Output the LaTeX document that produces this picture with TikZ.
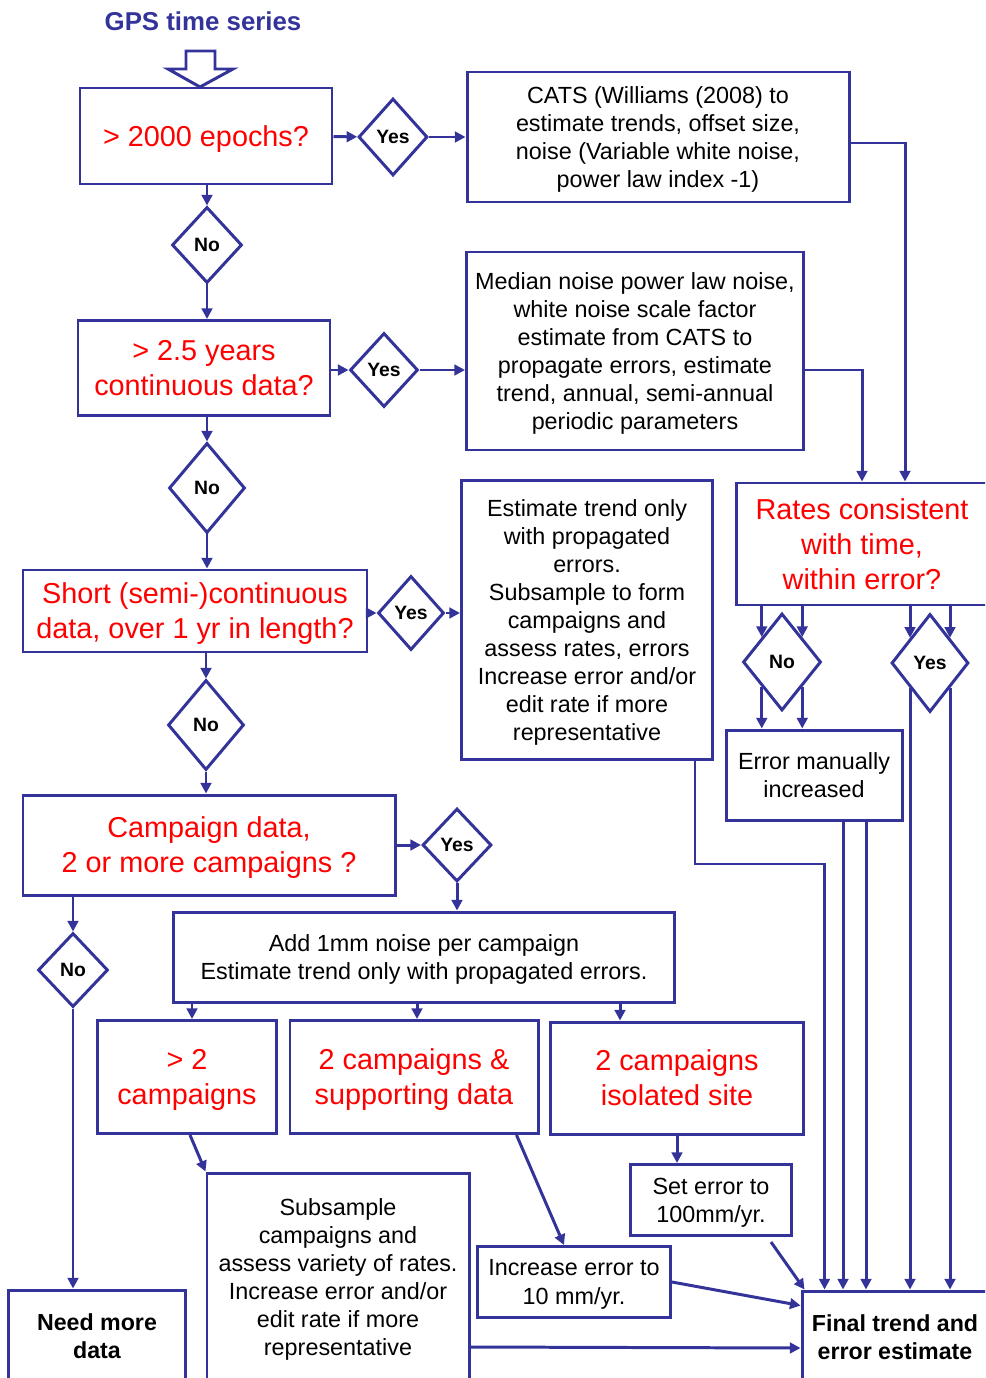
\documentclass[tikz,border=0pt]{standalone}
\usepackage{fontspec}
\setmainfont{Liberation Sans}
\usetikzlibrary{arrows.meta,calc,positioning,shapes.geometric}
\definecolor{gpsblue}{RGB}{51,51,153}
\tikzset{
    flow/.style={draw=gpsblue,line width=1.7pt},
    sz/.style 2 args={minimum width=#1*0.02cm,minimum height=#2*0.02cm},
    qbox/.style={flow,rectangle,text=red,align=center,inner sep=0pt,text depth=-1pt,font=\fontsize{16.4}{19.9}\selectfont},
    tbox/.style={flow,rectangle,align=center,inner sep=0pt,text depth=-1pt,font=\fontsize{13.3}{16}\selectfont},
    bbox/.style={tbox,font=\bfseries\fontsize{13.2}{16}\selectfont},
    yn/.style={flow,diamond,inner sep=0pt,font=\bfseries\fontsize{11}{13}\selectfont},
    arr/.style={draw=gpsblue,line width=1.7pt,->}
}

\begin{document}
\begin{tikzpicture}[x=0.02cm,y=-0.02cm,>={Triangle[length=6pt,width=6pt]}]
    \useasboundingbox (0,0) rectangle (985,1378);
    \clip (0,0) rectangle (985,1378);

    \node[font=\bfseries\fontsize{14.7}{17}\selectfont,text=gpsblue] (title) at (203,21) {GPS time series};
    \draw[flow] (186,51) -- (215,51) -- (215,69) -- (233,69) -- (200,87) -- (168,69) -- (186,69) -- cycle;

    % time series questions
    \node[qbox,sz={252}{96}] (epochs) at (206,136) {> 2000 epochs?};
    \node[yn,sz={69}{77}] (yes1) at (393,137) {Yes};
    \node[tbox,sz={382}{130}] (cats) at (658,137) {CATS (Williams (2008) to\\estimate trends, offset size,\\noise (Variable white noise,\\power law index -1)};
    \node[yn,sz={70}{76}] (no1) at (207,245) {No};

    \node[qbox,sz={252}{95}] (years) at (204,368) {> 2.5 years\\continuous data?};
    \node[yn,sz={68}{74}] (yes2) at (384,370) {Yes};
    \node[tbox,sz={337}{198}] (median) at (635,351) {Median noise power law noise,\\white noise scale factor\\estimate from CATS to\\propagate errors, estimate\\trend, annual, semi-annual\\periodic parameters};
    \node[yn,sz={76}{90}] (no2) at (207,488) {No};

    \node[qbox,sz={344}{82}] (short) at (195,611) {Short (semi-)continuous\\data, over 1 yr in length?};
    \node[yn,sz={66}{74}] (yes3) at (411,613) {Yes};
    \node[tbox,sz={251}{279}] (subest) at (587,620) {Estimate trend only\\with propagated\\errors.\\Subsample to form\\campaigns and\\assess rates, errors\\Increase error and/or\\edit rate if more\\representative};
    \node[yn,sz={76}{90}] (no3) at (206,725) {No};

    % campaign data
    \node[qbox,sz={372}{100}] (campaign) at (209,845) {Campaign data,\\2 or more campaigns ?};
    \node[yn,sz={69}{73}] (yes4) at (457,845) {Yes};
    \node[yn,sz={70}{74}] (no4) at (73,970) {No};
    \node[tbox,sz={501}{90}] (addnoise) at (424,957) {Add 1mm noise per campaign\\Estimate trend only with propagated errors.};
    \node[qbox,sz={179}{113}] (gttwo) at (187,1077) {> 2\\campaigns};
    \node[qbox,sz={248}{113}] (support) at (414,1077) {2 campaigns \&\\supporting data};
    \node[qbox,sz={253}{112}] (isolated) at (677,1078) {2 campaigns\\isolated site};
    \node[tbox,sz={262}{208}] (subsample) at (338,1277) {Subsample\\campaigns and\\assess variety of rates.\\Increase error and/or\\edit rate if more\\representative};
    \node[tbox,sz={193}{71}] (tenmm) at (574,1282) {Increase error to\\10 mm/yr.};
    \node[tbox,sz={161}{71}] (hundredmm) at (711,1200) {Set error to\\100mm/yr.};
    \node[bbox,sz={177}{92}] (needmore) at (97,1336) {Need more\\data};
    \node[bbox,sz={186}{92}] (final) at (895,1337) {Final trend and\\error estimate};

    % consistency check
    \node[qbox,sz={252}{122}] (rates) at (862,544) {Rates consistent\\with time,\\within error?};
    \node[yn,sz={78}{97}] (no5) at (782,662) {No};
    \node[yn,sz={77}{98}] (yes5) at (930,663) {Yes};
    \node[tbox,sz={176}{90}] (errman) at (814,775) {Error manually\\increased};

    % main chain
    \draw[arr] (epochs) -- (yes1);
    \draw[arr] (yes1) -- (cats);
    \draw[arr] (epochs.south -| no1) -- (no1);
    \draw[arr] (no1) -- (no1 |- years.north);
    \draw[arr] (years.east |- yes2) -- (yes2);
    \draw[arr] (yes2) -- (yes2 -| median.west);
    \draw[arr] (years.south -| no2) -- (no2);
    \draw[arr] (no2) -- (no2 |- short.north);
    \draw[arr] (short.east |- yes3) -- (yes3);
    \draw[arr] (yes3) -- (yes3 -| subest.west);
    \draw[arr] (short.south -| no3) -- (no3);
    \draw[arr] (no3) -- (no3 |- campaign.north);
    \draw[arr] (campaign.east |- yes4) -- (yes4);
    \draw[arr] (yes4) -- (yes4 |- addnoise.north);
    \draw[arr] (campaign.south -| no4) -- (no4);
    \draw[arr] (no4) -- (no4 |- needmore.north);

    % campaign branches
    \coordinate (c1) at ($(gttwo.north)+(5,0)$);
    \coordinate (c2) at ($(support.north)+(3,0)$);
    \coordinate (c3) at ($(isolated.north)+(-57,0)$);
    \foreach \c in {c1,c2,c3}
        \draw[arr] (addnoise.south -| \c) -- (\c);
    \draw[arr] ($(gttwo.south)+(3,0)$) -- (subsample.north west);
    \draw[arr] ($(support.south east)+(-23,0)$) -- ($(tenmm.north)+(-10,0)$);
    \draw[arr] (isolated.south) -- (isolated.south |- hundredmm.north);
    \draw[arr] ($(hundredmm.south east)+(-22,5)$) -- ($(final.north west)+(4,0)$);
    \draw[arr] (tenmm.east) -- ($(final.north west)+(0,16)$);
    \draw[arr] ($(subsample.east)+(0,70)$) -- ($(final.west)+(0,11)$);

    % into rates check
    \draw[arr] ($(cats.east)+(0,6)$) -| ($(rates.north)+(43,0)$);
    \draw[arr] ($(median.east)+(0,19)$) -| (rates.north);
    \coordinate (d1) at ($(subest.south east)+(-19,0)$);
    \coordinate (d2) at ($(d1)+(0,103)$);
    \draw[arr] (d1) -- (d2) -| ($(final.north west)+(24,0)$);

    \foreach \dm in {no5,yes5}{
        \foreach \sd in {west,east}{
            \coordinate (\dm-up-\sd) at ($(\dm.north)!.5!(\dm.\sd)$);
            \coordinate (\dm-lo-\sd) at ($(\dm.south)!.5!(\dm.\sd)$);
            \draw[arr] (rates.south -| \dm-up-\sd) -- (\dm-up-\sd);
        }
    }
    \draw[arr] (no5-lo-west) -- (no5-lo-west |- errman.north);
    \draw[arr] (no5-lo-east) -- (no5-lo-east |- errman.north);
    \draw[arr] (yes5-lo-west) -- (yes5-lo-west |- final.north);
    \draw[arr] (yes5-lo-east) -- (yes5-lo-east |- final.north);
    \coordinate (m1) at ($(errman.south)+(29,0)$);
    \coordinate (m2) at ($(errman.south)+(52,0)$);
    \draw[arr] (m1) -- (m1 |- final.north);
    \draw[arr] (m2) -- (m2 |- final.north);
\end{tikzpicture}
\end{document}
